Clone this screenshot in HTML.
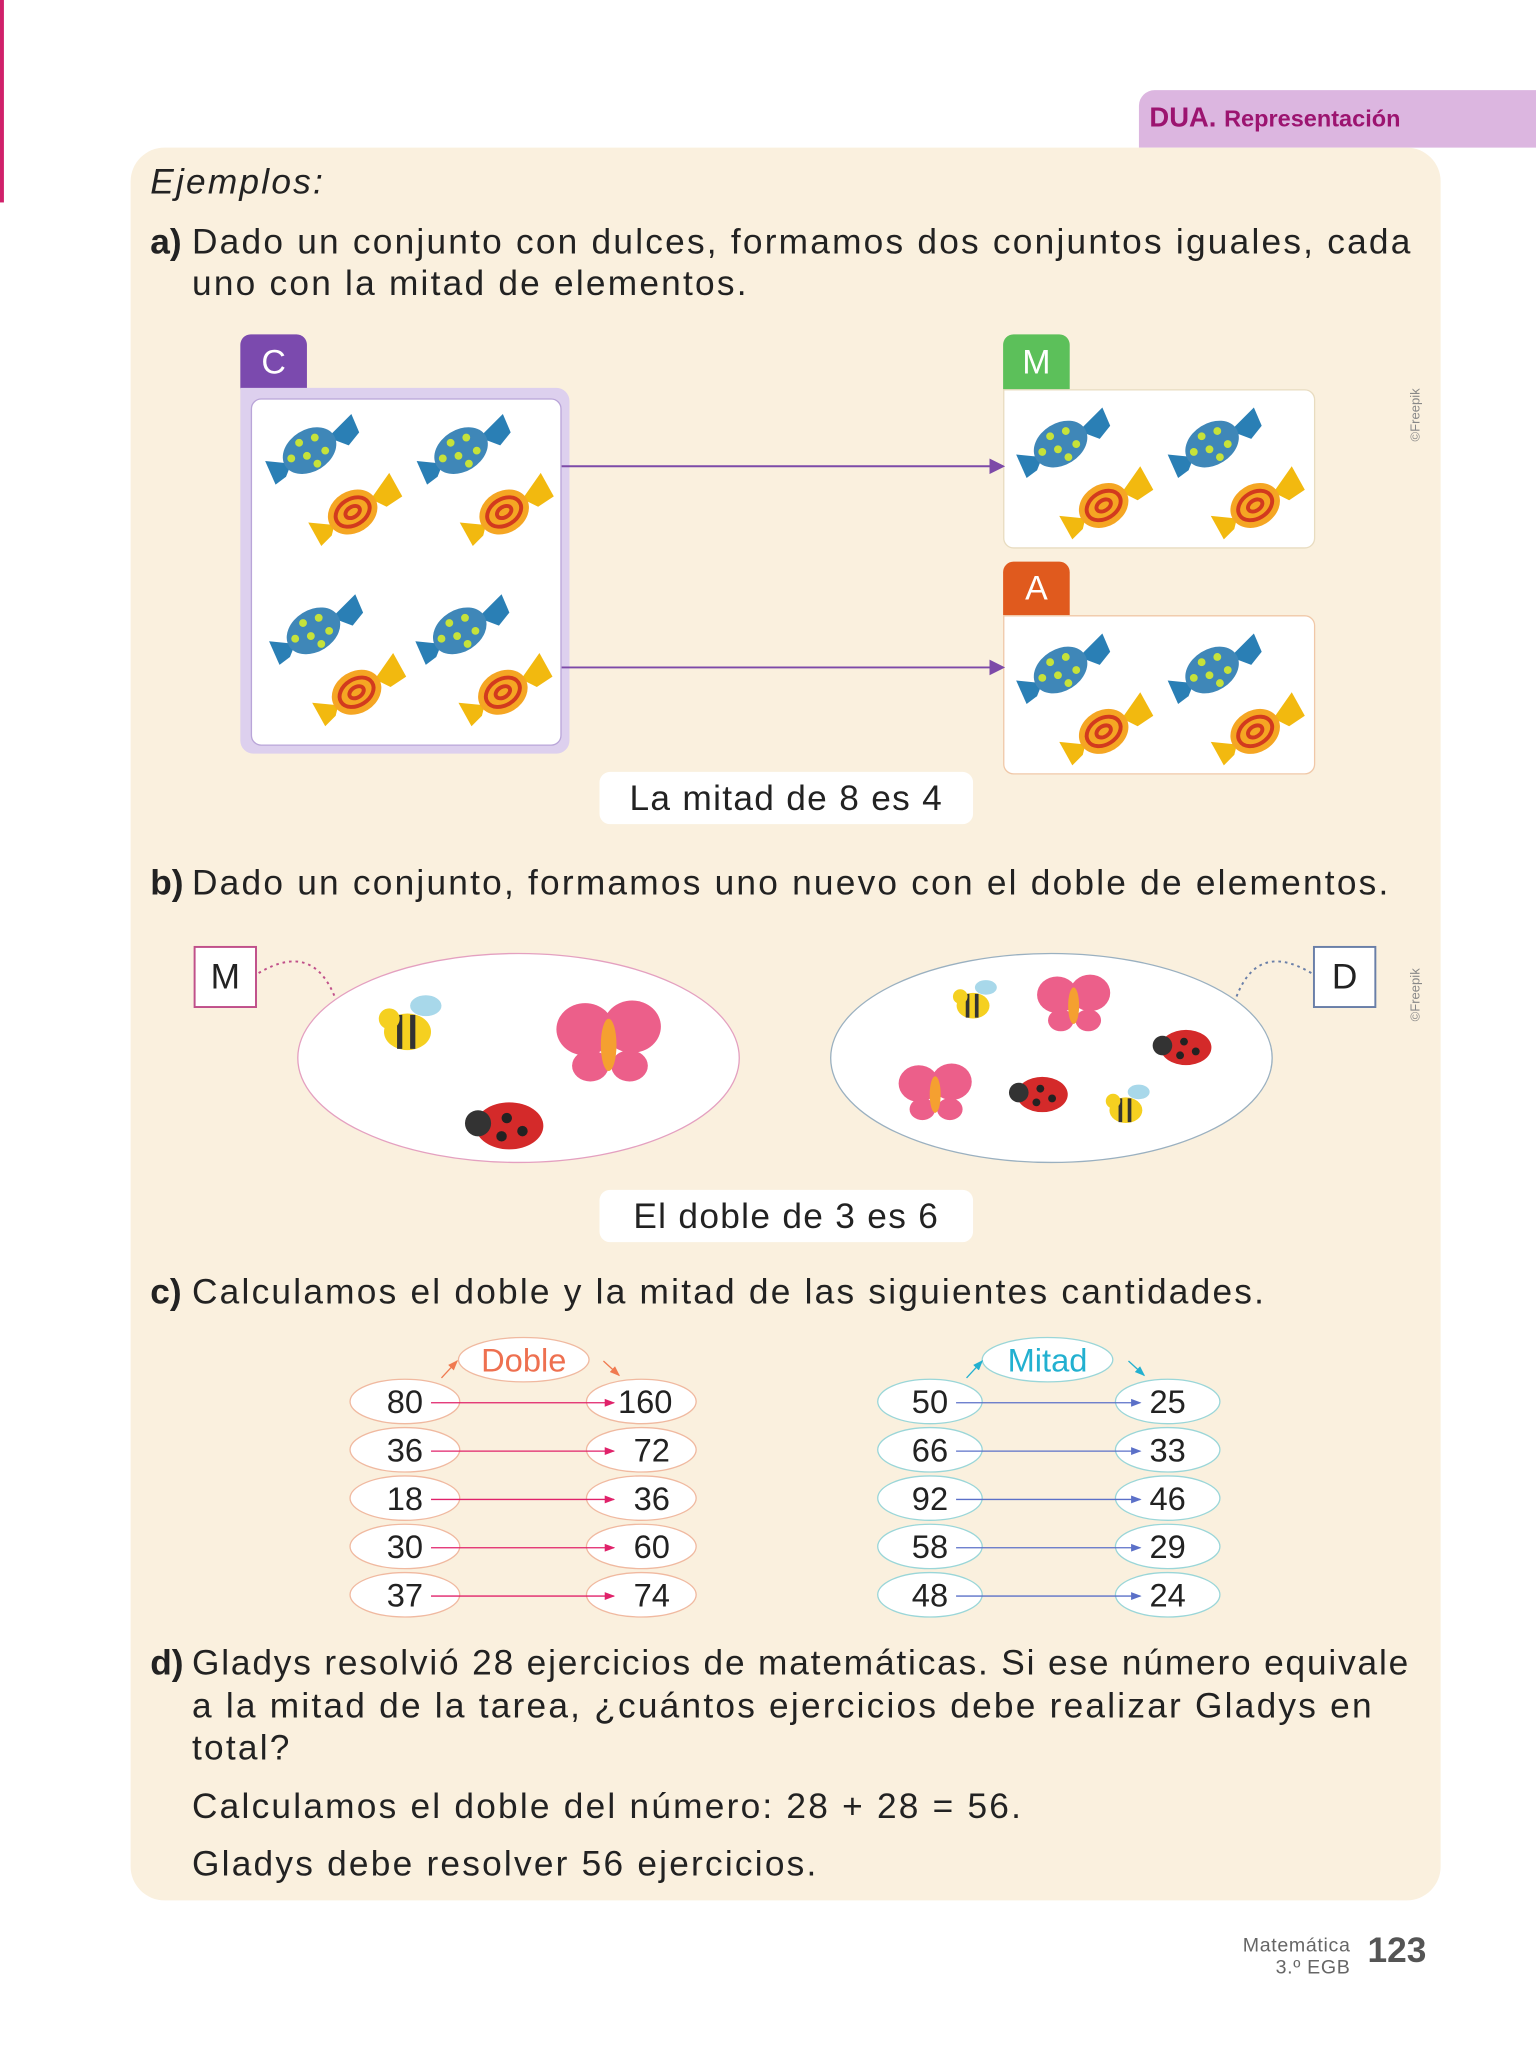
<!DOCTYPE html>
<html><head><meta charset="utf-8"><style>
html,body{margin:0;padding:0;background:#fff;}
body{width:1536px;height:2048px;overflow:hidden;position:relative;font-family:"Liberation Sans",sans-serif;}
#w{position:absolute;left:0;top:0;width:1176px;height:1568px;transform:scale(1.30612);transform-origin:0 0;}
.a{position:absolute;}
.t{position:absolute;font-size:27px;color:#222;white-space:nowrap;letter-spacing:1.7px;}
.b{font-weight:bold;}
</style></head><body><div id="w">
<div class="a" style="left:0;top:0;width:3px;height:155px;background:#d0206a"></div>
<div class="a" style="left:872px;top:69px;width:304px;height:44px;background:#dcb6e0;border-top-left-radius:12px"></div>
<div class="t" style="left:880px;top:79px;font-size:21px;color:#9c1470;letter-spacing:0"><b>DUA.</b> <b style="font-size:18px">Representación</b></div>
<div class="a" style="left:100px;top:113px;width:1003px;height:1342px;background:#faf0de;border-radius:26px"></div>
<div class="t" style="left:115px;top:124px;font-style:italic">Ejemplos:</div>
<div class="t" style="left:115px;top:170px;letter-spacing:0"><b>a)</b></div>
<div class="t" style="left:147px;top:170px">Dado un conjunto con dulces, formamos dos conjuntos iguales, cada</div>
<div class="t" style="left:147px;top:202px">uno con la mitad de elementos.</div>

<div class="a" style="left:184px;top:256px;width:51px;height:42px;background:#7b4aae;border-radius:8px 8px 0 0;color:#fff;font-size:26px;text-align:center;line-height:42px">C</div>
<div class="a" style="left:184px;top:297px;width:252px;height:280px;background:#ddd0ee;border-radius:0 10px 10px 10px"></div>
<div class="a" style="left:192px;top:305px;width:236px;height:264px;background:#fff;border:1px solid #b9a5d8;border-radius:8px"></div>
<div class="a" style="left:768px;top:256px;width:51px;height:42px;background:#5cc05a;border-radius:8px 8px 0 0;color:#fff;font-size:26px;text-align:center;line-height:42px">M</div>
<div class="a" style="left:768px;top:298px;width:237px;height:120px;background:#fff;border:1px solid #e8dcc0;border-radius:0 8px 8px 8px"></div>
<div class="a" style="left:768px;top:430px;width:51px;height:41px;background:#e05a1e;border-radius:8px 8px 0 0;color:#fff;font-size:26px;text-align:center;line-height:41px">A</div>
<div class="a" style="left:768px;top:471px;width:237px;height:120px;background:#fff;border:1px solid #f0c8a8;border-radius:0 8px 8px 8px"></div>

<svg class="a" style="left:0;top:0" width="1176" height="1568">
<defs>
<g id="cd">
<path d="M14,-10 L32,-28 L38,-14 L30,-4 Z" fill="#2a7fb5"/>
<path d="M-14,10 L-34,8 L-26,26 L-18,20 Z" fill="#2a7fb5"/>
<ellipse rx="22" ry="16" transform="rotate(-32)" fill="#3f87b8"/>
<circle cx="-8" cy="-6" r="3" fill="#c6e23a"/><circle cx="4" cy="-10" r="3" fill="#c6e23a"/><circle cx="12" cy="0" r="3" fill="#c6e23a"/><circle cx="-2" cy="4" r="3" fill="#c6e23a"/><circle cx="-14" cy="6" r="3" fill="#c6e23a"/><circle cx="6" cy="10" r="3" fill="#c6e23a"/>
<g transform="translate(33,47)">
<path d="M14,-10 L28,-30 L38,-12 L26,-4 Z" fill="#f2b90f"/>
<path d="M-14,10 L-34,8 L-24,26 L-16,18 Z" fill="#f2b90f"/>
<ellipse rx="20" ry="16" transform="rotate(-32)" fill="#f5a623"/>
<ellipse rx="14" ry="10" transform="rotate(-32)" fill="none" stroke="#d23a1e" stroke-width="3"/>
<ellipse rx="6" ry="4" transform="rotate(-32)" fill="none" stroke="#d23a1e" stroke-width="3"/>
</g></g>
<g id="bee"><ellipse cx="0" cy="0" rx="18" ry="14" fill="#f5d020"/><path d="M-6,-13 L-6,13 M4,-13 L4,13" stroke="#333" stroke-width="4"/><ellipse cx="14" cy="-20" rx="12" ry="8" fill="#a8d8ea"/><circle cx="-14" cy="-10" r="8" fill="#f5d020"/></g>
<g id="bf"><ellipse cx="-18" cy="-12" rx="22" ry="20" fill="#ec5f8a"/><ellipse cx="18" cy="-14" rx="22" ry="20" fill="#ec5f8a"/><ellipse cx="-14" cy="16" rx="14" ry="12" fill="#ec5f8a"/><ellipse cx="16" cy="16" rx="14" ry="12" fill="#ec5f8a"/><ellipse rx="6" ry="20" fill="#f5a030"/></g>
<g id="lb"><ellipse cx="0" cy="0" rx="26" ry="18" fill="#d42a2a"/><circle cx="-24" cy="-2" r="10" fill="#333"/><circle cx="-2" cy="-6" r="4" fill="#222"/><circle cx="10" cy="4" r="4" fill="#222"/><circle cx="-6" cy="8" r="4" fill="#222"/></g>
<marker id="mp" markerWidth="8" markerHeight="8" refX="7" refY="4" orient="auto"><path d="M0,0 L8,4 L0,8Z" fill="#7d4aa8"/></marker>
<marker id="mr" markerWidth="8" markerHeight="8" refX="7" refY="4" orient="auto"><path d="M0,1 L8,4 L0,7Z" fill="#e0226a"/></marker>
<marker id="mb" markerWidth="8" markerHeight="8" refX="7" refY="4" orient="auto"><path d="M0,1 L8,4 L0,7Z" fill="#5b70c8"/></marker>
<marker id="mo" markerWidth="8" markerHeight="8" refX="7" refY="4" orient="auto"><path d="M0,1 L8,4 L0,7Z" fill="#f07a50"/></marker>
<marker id="mc" markerWidth="8" markerHeight="8" refX="7" refY="4" orient="auto"><path d="M0,1 L8,4 L0,7Z" fill="#22b0d0"/></marker>
</defs>
<use href="#cd" x="237" y="345"/><use href="#cd" x="353" y="345"/><use href="#cd" x="240" y="483"/><use href="#cd" x="352" y="483"/>
<use href="#cd" x="812" y="340"/><use href="#cd" x="928" y="340"/><use href="#cd" x="812" y="513"/><use href="#cd" x="928" y="513"/>
<line x1="430" y1="357" x2="768" y2="357" stroke="#7d4aa8" stroke-width="1.5" marker-end="url(#mp)"/>
<line x1="430" y1="511" x2="768" y2="511" stroke="#7d4aa8" stroke-width="1.5" marker-end="url(#mp)"/>
<rect x="149" y="725" width="47" height="46" fill="#fff" stroke="#c0508a" stroke-width="1.5"/>
<rect x="1006" y="725" width="47" height="46" fill="#fff" stroke="#6a7fa8" stroke-width="1.5"/>
<path d="M198,745 Q240,720 257,765" fill="none" stroke="#c0508a" stroke-width="1.5" stroke-dasharray="2,3"/>
<path d="M1004,745 Q962,720 946,765" fill="none" stroke="#6a7fa8" stroke-width="1.5" stroke-dasharray="2,3"/>
<ellipse cx="397" cy="810" rx="169" ry="80" fill="#fff" stroke="#e4a0c0"/>
<ellipse cx="805" cy="810" rx="169" ry="80" fill="#fff" stroke="#9ab0c0"/>
<use href="#bee" x="312" y="790"/>
<use href="#bf" x="466" y="800"/>
<use href="#lb" x="390" y="862"/>
<use href="#bee" transform="translate(745,770) scale(.7)"/>
<use href="#bf" transform="translate(822,770) scale(.7)"/>
<use href="#lb" transform="translate(908,802) scale(.75)"/>
<use href="#bf" transform="translate(716,838) scale(.7)"/>
<use href="#lb" transform="translate(798,838) scale(.75)"/>
<use href="#bee" transform="translate(862,850) scale(.7)"/>
<g fill="#fff" stroke="#f0b9a0" stroke-width="1">
<ellipse cx="401" cy="1041" rx="50" ry="17"/>
<ellipse cx="310" cy="1073" rx="42" ry="17"/><ellipse cx="491" cy="1073" rx="42" ry="17"/>
<ellipse cx="310" cy="1110" rx="42" ry="17"/><ellipse cx="491" cy="1110" rx="42" ry="17"/>
<ellipse cx="310" cy="1147" rx="42" ry="17"/><ellipse cx="491" cy="1147" rx="42" ry="17"/>
<ellipse cx="310" cy="1184" rx="42" ry="17"/><ellipse cx="491" cy="1184" rx="42" ry="17"/>
<ellipse cx="310" cy="1221" rx="42" ry="17"/><ellipse cx="491" cy="1221" rx="42" ry="17"/>
</g>
<g fill="#fff" stroke="#9ad6d8" stroke-width="1">
<ellipse cx="802" cy="1041" rx="50" ry="17"/>
<ellipse cx="712" cy="1073" rx="40" ry="17"/><ellipse cx="894" cy="1073" rx="40" ry="17"/>
<ellipse cx="712" cy="1110" rx="40" ry="17"/><ellipse cx="894" cy="1110" rx="40" ry="17"/>
<ellipse cx="712" cy="1147" rx="40" ry="17"/><ellipse cx="894" cy="1147" rx="40" ry="17"/>
<ellipse cx="712" cy="1184" rx="40" ry="17"/><ellipse cx="894" cy="1184" rx="40" ry="17"/>
<ellipse cx="712" cy="1221" rx="40" ry="17"/><ellipse cx="894" cy="1221" rx="40" ry="17"/>
</g>
<g stroke="#e0226a" stroke-width="1" marker-end="url(#mr)">
<line x1="330" y1="1074" x2="470" y2="1074"/><line x1="330" y1="1111" x2="470" y2="1111"/><line x1="330" y1="1148" x2="470" y2="1148"/><line x1="330" y1="1185" x2="470" y2="1185"/><line x1="330" y1="1222" x2="470" y2="1222"/>
</g>
<g stroke="#5b70c8" stroke-width="1" marker-end="url(#mb)">
<line x1="732" y1="1074" x2="873" y2="1074"/><line x1="732" y1="1111" x2="873" y2="1111"/><line x1="732" y1="1148" x2="873" y2="1148"/><line x1="732" y1="1185" x2="873" y2="1185"/><line x1="732" y1="1222" x2="873" y2="1222"/>
</g>
<line x1="338" y1="1055" x2="350" y2="1042" stroke="#f07a50" marker-end="url(#mo)"/>
<line x1="462" y1="1042" x2="474" y2="1053" stroke="#f07a50" marker-end="url(#mo)"/>
<line x1="740" y1="1055" x2="752" y2="1042" stroke="#22b0d0" marker-end="url(#mc)"/>
<line x1="864" y1="1042" x2="876" y2="1053" stroke="#22b0d0" marker-end="url(#mc)"/>
<g font-family="Liberation Sans, sans-serif" font-size="25" fill="#222" text-anchor="middle">
<text x="310" y="1082">80</text><text x="494" y="1082">160</text>
<text x="310" y="1119">36</text><text x="499" y="1119">72</text>
<text x="310" y="1156">18</text><text x="499" y="1156">36</text>
<text x="310" y="1193">30</text><text x="499" y="1193">60</text>
<text x="310" y="1230">37</text><text x="499" y="1230">74</text>
<text x="712" y="1082">50</text><text x="894" y="1082">25</text>
<text x="712" y="1119">66</text><text x="894" y="1119">33</text>
<text x="712" y="1156">92</text><text x="894" y="1156">46</text>
<text x="712" y="1193">58</text><text x="894" y="1193">29</text>
<text x="712" y="1230">48</text><text x="894" y="1230">24</text>
<text x="401" y="1050" fill="#ee7050">Doble</text>
<text x="802" y="1050" fill="#22b0d0">Mitad</text>
</g>
<text x="1087" y="338" font-size="10" fill="#888" transform="rotate(-90 1087 338)" font-family="Liberation Sans, sans-serif">©Freepik</text>
<text x="1087" y="782" font-size="10" fill="#888" transform="rotate(-90 1087 782)" font-family="Liberation Sans, sans-serif">©Freepik</text>
</svg>

<div class="a" style="left:459px;top:591px;width:286px;height:40px;background:#fff;border-radius:8px"></div>
<div class="t" style="left:459px;top:596px;width:286px;text-align:center;letter-spacing:1px">La mitad de 8 es 4</div>
<div class="t" style="left:115px;top:661px;letter-spacing:0"><b>b)</b></div>
<div class="t" style="left:147px;top:661px">Dado un conjunto, formamos uno nuevo con el doble de elementos.</div>
<div class="t" style="left:149px;top:733px;width:47px;text-align:center;letter-spacing:0">M</div>
<div class="t" style="left:1006px;top:733px;width:47px;text-align:center;letter-spacing:0">D</div>
<div class="a" style="left:459px;top:911px;width:286px;height:40px;background:#fff;border-radius:8px"></div>
<div class="t" style="left:459px;top:916px;width:286px;text-align:center;letter-spacing:1px">El doble de 3 es 6</div>
<div class="t" style="left:115px;top:974px;letter-spacing:0"><b>c)</b></div>
<div class="t" style="left:147px;top:974px">Calculamos el doble y la mitad de las siguientes cantidades.</div>
<div class="t" style="left:115px;top:1258px;letter-spacing:0"><b>d)</b></div>
<div class="t" style="left:147px;top:1258px;letter-spacing:1.4px">Gladys resolvió 28 ejercicios de matemáticas. Si ese número equivale</div>
<div class="t" style="left:147px;top:1291px">a la mitad de la tarea, ¿cuántos ejercicios debe realizar Gladys en</div>
<div class="t" style="left:147px;top:1323px">total?</div>
<div class="t" style="left:147px;top:1368px">Calculamos el doble del número: 28 + 28 = 56.</div>
<div class="t" style="left:147px;top:1412px">Gladys debe resolver 56 ejercicios.</div>
<div class="t" style="left:900px;top:1481px;width:134px;text-align:right;font-size:15px;color:#666;line-height:17px;letter-spacing:0.5px">Matemática<br>3.º EGB</div>
<div class="t" style="left:1047px;top:1478px;font-size:27px;font-weight:bold;color:#555;letter-spacing:0">123</div>
</div></body></html>
